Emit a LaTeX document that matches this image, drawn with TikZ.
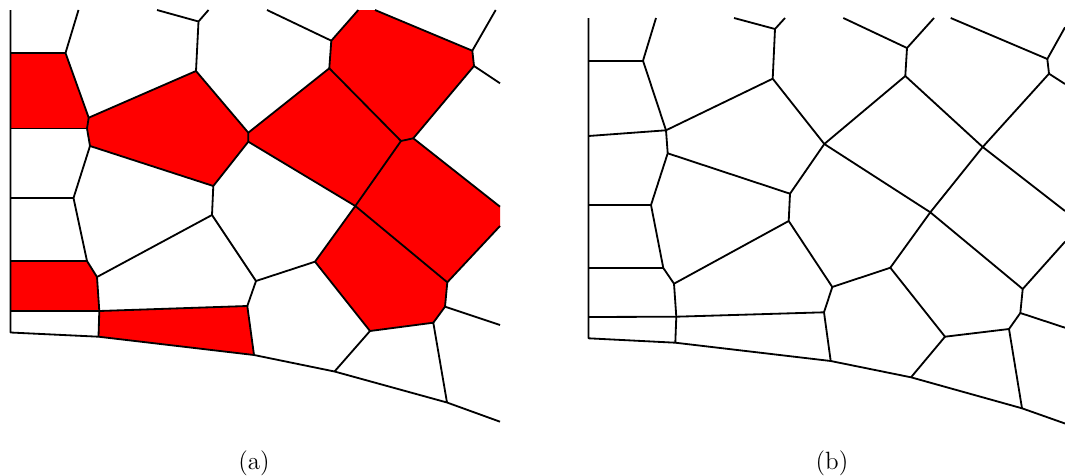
\documentclass[tikz,border=0pt]{standalone}
\definecolor{meshred}{RGB}{255,0,0}
\tikzset{
  meshline/.style={black, line width=0.8pt, line join=round},
  redcell/.style={fill=meshred, draw=none},
  captext/.style={font=\fontsize{11}{13}\selectfont}
}
\begin{document}
\begin{tikzpicture}[x=0.44pt, y=-0.44pt]
\useasboundingbox (0,0) rectangle (1065,475);
% Panel (a): marked cells
\fill[redcell] (10.5,53) -- (65.5,53) -- (88.7,117.7) -- (87,128.5) -- (10.5,128.5) -- cycle;
\fill[redcell] (88.7,117.7) -- (196,71) -- (248.3,132.7) -- (248.3,141.7) -- (213.3,186) -- (90,146) -- (87,128.5) -- cycle;
\fill[redcell] (248.3,132.7) -- (329.3,68.3) -- (401,141) -- (355.3,206) -- (248.3,141.7) -- cycle;
\fill[redcell] (331.3,40.7) -- (358.3,10) -- (375,10) -- (472.3,50.7) -- (474,66) -- (413.3,138.3) -- (401,141) -- (329.3,68.3) -- cycle;
\fill[redcell] (401,141) -- (413.3,138.3) -- (500,206.7) -- (500,226) -- (447.3,282.3) -- (355.3,206) -- cycle;
\fill[redcell] (355.3,206) -- (447.3,282.3) -- (445,306.7) -- (433.3,322.7) -- (370,331) -- (315,261.7) -- cycle;
\fill[redcell] (10.5,261) -- (87,261) -- (97,277) -- (99.3,311) -- (10.5,311) -- cycle;
\fill[redcell] (99.3,311) -- (247.3,306) -- (254,355) -- (98.5,336.7) -- cycle;
% Panel (a): boundary
\draw[meshline] (10.5,10) -- (10.5,332.5) -- (98.5,336.7) -- (254,355) -- (334.5,371.5) -- (447,402.5) -- (500,421.7);
% Panel (a): left column
\draw[meshline] (78.5,10) -- (65.5,53) -- (88.7,117.7) -- (87,128.5) -- (90,146) -- (73.5,198) -- (87,261) -- (97,277) -- (99.3,311) -- (98.5,336.7);
\draw[meshline] (10.5,53) -- (65.5,53);
\draw[meshline] (10.5,128.5) -- (87,128.5);
\draw[meshline] (10.5,198) -- (73.5,198);
\draw[meshline] (10.5,261) -- (87,261);
\draw[meshline] (10.5,311) -- (99.3,311) -- (247.3,306) -- (254,355);
% Panel (a): inner cells
\draw[meshline] (157,10) -- (198.5,21.5) -- (208.5,10);
\draw[meshline] (198.5,21.5) -- (196,71) -- (248.3,132.7) -- (248.3,141.7) -- (213.3,186) -- (212,215) -- (256,281) -- (247.3,306);
\draw[meshline] (88.7,117.7) -- (196,71);
\draw[meshline] (90,146) -- (213.3,186);
\draw[meshline] (97,277) -- (212,215);
\draw[meshline] (256,281) -- (315,261.7) -- (370,331) -- (334.5,371.5);
\draw[meshline] (370,331) -- (433.3,322.7) -- (447,402.5);
\draw[meshline] (433.3,322.7) -- (445,306.7) -- (447.3,282.3) -- (355.3,206) -- (315,261.7);
\draw[meshline] (445,306.7) -- (500,325);
\draw[meshline] (447.3,282.3) -- (500,226);
% Panel (a): upper right
\draw[meshline] (267,10) -- (331.3,40.7) -- (358.3,10);
\draw[meshline] (331.3,40.7) -- (329.3,68.3) -- (401,141) -- (355.3,206) -- (248.3,141.7);
\draw[meshline] (248.3,132.7) -- (329.3,68.3);
\draw[meshline] (375,10) -- (472.3,50.7) -- (474,66) -- (413.3,138.3) -- (500,206.7);
\draw[meshline] (401,141) -- (413.3,138.3);
\draw[meshline] (495.7,10) -- (472.3,50.7);
\draw[meshline] (474,66) -- (500,83.3);
% Panel (b): boundary
\draw[meshline] (588.5,18) -- (588.5,338.3) -- (675.3,342.7) -- (830.7,361) -- (911,377.3) -- (1022,408.3) -- (1065,423.5);
% Panel (b): left column
\draw[meshline] (656,18) -- (643,60.7) -- (666,130.3) -- (667.7,153.3) -- (651,205) -- (663.3,268) -- (674,283.7) -- (676.3,316.7) -- (675.3,342.7);
\draw[meshline] (588.5,60.7) -- (643,60.7);
\draw[meshline] (588.5,136) -- (666,130.3);
\draw[meshline] (588.5,205) -- (651,205);
\draw[meshline] (588.5,268) -- (663.3,268);
\draw[meshline] (588.5,317) -- (676.3,316.7) -- (824,312.3) -- (830.7,361);
% Panel (b): inner cells
\draw[meshline] (734,18) -- (775,29) -- (785,18);
\draw[meshline] (775,29) -- (772.7,78.7) -- (824.3,144) -- (790,193.7) -- (788.7,221) -- (832.3,287) -- (824,312.3);
\draw[meshline] (666,130.3) -- (772.7,78.7);
\draw[meshline] (667.7,153.3) -- (790,193.7);
\draw[meshline] (674,283.7) -- (788.7,221);
\draw[meshline] (832.3,287) -- (890.3,267.7) -- (945,336.7) -- (911,377.3);
\draw[meshline] (945,336.7) -- (1009,329) -- (1022,408.3);
\draw[meshline] (1009,329) -- (1020.3,313) -- (1022.7,289) -- (930.3,212.3) -- (890.3,267.7);
\draw[meshline] (1020.3,313) -- (1065,327.7);
\draw[meshline] (1022.7,289) -- (1065,241.7);
% Panel (b): upper right
\draw[meshline] (843.3,18) -- (907,48) -- (934,18);
\draw[meshline] (907,48) -- (905.3,76) -- (982.7,147) -- (930.3,212.3) -- (824.3,144) -- (905.3,76);
\draw[meshline] (950.7,18) -- (1047.3,59) -- (1049,73.7) -- (982.7,147) -- (1065,211);
\draw[meshline] (1065,27.3) -- (1047.3,59);
\draw[meshline] (1049,73.7) -- (1065,84);
% Captions
\node[captext] (capa) at (254,463) {(a)};
\node[captext] (capb) at (832,463) {(b)};
\end{tikzpicture}
\end{document}
